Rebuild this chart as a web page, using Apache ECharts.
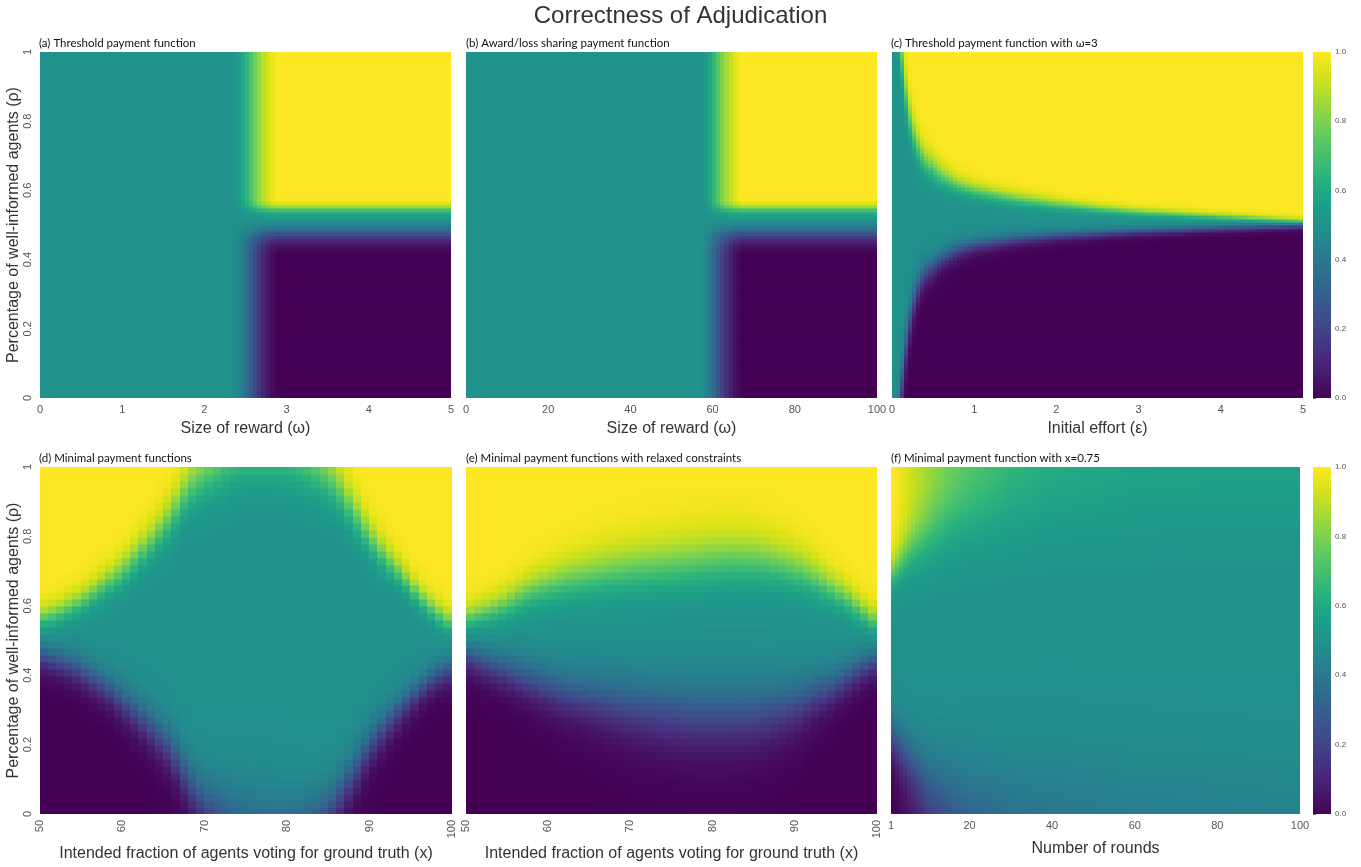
<!DOCTYPE html>
<html>
<head>
<meta charset="utf-8">
<script src="https://cdn.jsdelivr.net/npm/echarts@6/dist/echarts.min.js"></script>
<style>html,body{margin:0;padding:0;background:#fff}#chart{width:1361px;height:867px}</style>
</head>
<body>
<div id="chart"></div>
<script>
// ---------------- data ----------------
// (a) Threshold payment function: column reach (0 = undecided teal, 1 = fully decided) vs ω
const aOmega = [0, 2.3, 2.4, 2.5, 2.6, 2.7, 2.8, 2.9, 5];
const aReach = [0, 0, 0.06, 0.25, 0.5, 0.75, 0.92, 1, 1];
// decided-value row profile vs ρ
const aRho     = [0, 0.42, 0.44, 0.46, 0.48, 0.50, 0.52, 0.54, 0.555, 0.57, 1];
const aDecided = [0, 0, 0.04, 0.12, 0.28, 0.45, 0.52, 0.62, 0.85, 1, 1];

// (b) Award/loss sharing payment function
const bOmega = [0, 57, 59, 61, 63, 65, 67, 100];
const bReach = [0, 0, 0.12, 0.4, 0.68, 0.88, 1, 1];
const bRho     = [0, 0.42, 0.44, 0.46, 0.48, 0.50, 0.52, 0.54, 0.555, 0.57, 1];
const bDecided = [0, 0, 0.04, 0.12, 0.28, 0.45, 0.52, 0.62, 0.85, 1, 1];

// (c) Threshold payment function with ω=3: upper / lower boundaries vs ε
const cEps    = [0, 0.05, 0.1, 0.15, 0.2, 0.3, 0.4, 0.6, 0.8, 1.0, 1.5, 2, 2.5, 3, 4, 5];
const cUpper  = [1.3, 1.2, 1.04, 0.93, 0.83, 0.74, 0.69, 0.645, 0.618, 0.602, 0.578, 0.562, 0.55, 0.54, 0.527, 0.514];
const cUpperW = [0.06, 0.05, 0.045, 0.04, 0.035, 0.03, 0.025, 0.02, 0.016, 0.014, 0.012, 0.01, 0.008, 0.007, 0.006, 0.005];
const cLower  = [-0.3, -0.15, -0.01, 0.1, 0.2, 0.31, 0.36, 0.405, 0.43, 0.445, 0.462, 0.472, 0.478, 0.484, 0.492, 0.499];
const cLowerW = [0.06, 0.05, 0.045, 0.04, 0.035, 0.028, 0.022, 0.018, 0.015, 0.013, 0.011, 0.009, 0.008, 0.007, 0.006, 0.005];

// (d) Minimal payment functions: boundaries vs x
const dX      = [50, 52, 54, 56, 58, 60, 62, 64, 66, 68, 70, 72, 74, 76, 78, 80, 82, 84, 86, 88, 90, 92, 94, 96, 98, 100];
const dUpper  = [.565, .58, .60, .63, .665, .70, .75, .80, .86, .94, .98, 1.01, 1.04, 1.045, 1.045, 1.04, 1.02, .99, .95, .875, .80, .74, .69, .63, .585, .55];
const dUpperW = [.02, .021, .022, .024, .026, .028, .03, .032, .036, .042, .046, .05, .052, .052, .052, .052, .05, .046, .042, .036, .032, .028, .025, .022, .021, .02];
const dLower  = [.46, .445, .43, .40, .37, .33, .29, .24, .19, .10, .035, -.005, -.04, -.06, -.065, -.06, -.04, -.01, .04, .12, .20, .26, .31, .36, .40, .42];
const dLowerW = [.024, .024, .026, .027, .029, .032, .034, .037, .04, .045, .05, .058, .066, .07, .07, .066, .058, .05, .045, .04, .036, .032, .029, .026, .024, .024];

// (e) Minimal payment functions with relaxed constraints
const eX      = [50, 54, 58, 62, 66, 70, 74, 78, 82, 86, 90, 92.5, 94.5, 96.5, 98.5, 100];
const eUpper  = [.565, .595, .645, .675, .695, .71, .72, .73, .74, .735, .71, .68, .65, .62, .58, .553];
const eUpperW = [.022, .026, .032, .038, .042, .045, .047, .048, .048, .045, .04, .035, .03, .027, .024, .022];
const eLower  = [.46, .425, .39, .355, .335, .315, .30, .29, .29, .295, .32, .35, .37, .40, .43, .445];
const eLowerW = [.025, .03, .036, .042, .048, .054, .058, .06, .06, .056, .048, .04, .034, .03, .027, .025];

// (f) Minimal payment function with x=0.75: corner levels vs number of rounds
const fRound  = [1, 3, 6, 10, 15, 20, 30, 40, 60, 80, 100];
const fTop    = [1, 0.97, 0.92, 0.86, 0.8, 0.76, 0.69, 0.65, 0.61, 0.6, 0.6];
const fUpper  = [0.7, 0.73, 0.77, 0.8, 0.84, 0.86, 0.88, 0.9, 0.9, 0.9, 0.9];
const fUpperW = [0.03, 0.035, 0.045, 0.055, 0.065, 0.07, 0.08, 0.09, 0.1, 0.1, 0.1];
const fBottom = [0, 0.02, 0.06, 0.12, 0.18, 0.22, 0.28, 0.32, 0.36, 0.38, 0.4];
const fLower  = [0.22, 0.19, 0.15, 0.1, 0.07, 0.05, 0.04, 0.04, 0.04, 0.04, 0.04];
const fLowerW = [0.04, 0.045, 0.05, 0.06, 0.07, 0.08, 0.09, 0.1, 0.1, 0.1, 0.1];

// tick labels
const omegaTicks = [0, 1, 2, 3, 4, 5];
const omegaBigTicks = [0, 20, 40, 60, 80, 100];
const epsTicks = [0, 1, 2, 3, 4, 5];
const fracTicks = [50, 60, 70, 80, 90, 100];
const roundTicks = [1, 20, 40, 60, 80, 100];
const rhoTicks = [0, 0.2, 0.4, 0.6, 0.8, 1];
const colorbarTicks = [0, 0.2, 0.4, 0.6, 0.8, 1.0];

const VIRIDIS = ['#440154','#471365','#482475','#463480','#414487','#3b528b','#355f8d','#2f6c8e','#2a788e','#25848e','#21918c','#1e9c89','#22a884','#2fb47c','#44bf70','#5ec962','#7ad151','#9bd93c','#bddf26','#dfe318','#fde725'];

// ---------------- helpers ----------------
function interp(xs, ys, x) {
  if (x <= xs[0]) return ys[0];
  for (let i = 1; i < xs.length; i++) {
    if (x <= xs[i]) { const t = (x - xs[i-1]) / (xs[i] - xs[i-1]); return ys[i-1] + t * (ys[i] - ys[i-1]); }
  }
  return ys[ys.length - 1];
}
function S(t) { return 1 / (1 + Math.exp(-t)); }
function clamp(v) { return Math.max(0, Math.min(1, v)); }
function buildCells(x0, x1, nx, y0, y1, ny, fn) {
  const out = [];
  const dx = (x1 - x0) / nx, dy = (y1 - y0) / ny;
  for (let i = 0; i < nx; i++) {
    for (let j = 0; j < ny; j++) {
      const xa = x0 + i * dx, ya = y0 + j * dy;
      out.push([xa, xa + dx, ya, ya + dy, clamp(fn(xa + dx / 2, ya + dy / 2, i, j))]);
    }
  }
  return out;
}
function twoBoundary(xs, U, UW, L, LW) {
  return (x, r) => 0.5 * S((r - interp(xs, L, x)) / interp(xs, LW, x)) + 0.5 * S((r - interp(xs, U, x)) / interp(xs, UW, x));
}

const cellsA = buildCells(0, 5, 100, 0, 1, 100, (x, r) => 0.5 + interp(aOmega, aReach, x) * (interp(aRho, aDecided, r) - 0.5));
const cellsB = buildCells(0, 100, 100, 0, 1, 100, (x, r) => 0.5 + interp(bOmega, bReach, x) * (interp(bRho, bDecided, r) - 0.5));
const cellsC = buildCells(0, 5, 100, 0, 1, 100, twoBoundary(cEps, cUpper, cUpperW, cLower, cLowerW));
const cellsD = buildCells(50, 100, 50, 0, 1, 50, twoBoundary(dX, dUpper, dUpperW, dLower, dLowerW));
const cellsE = buildCells(50, 100, 50, 0, 1, 50, twoBoundary(eX, eUpper, eUpperW, eLower, eLowerW));
const cellsF = buildCells(1, 100, 100, 0, 1, 100, (x, r, i) => {
  const rd = i + 1;
  const T = interp(fRound, fTop, rd), B = interp(fRound, fBottom, rd);
  return 0.5 + (T - 0.5) * S((r - interp(fRound, fUpper, rd)) / interp(fRound, fUpperW, rd))
             - (0.5 - B) * (1 - S((r - interp(fRound, fLower, rd)) / interp(fRound, fLowerW, rd)));
});
const cbCells = buildCells(0, 1, 1, 0, 1, 200, (x, r) => r);

// ---------------- chart ----------------
const FONT = 'Liberation Sans, Arial, sans-serif';
const grids = [
  { left: 40,  top: 52,  width: 411, height: 346 },
  { left: 466, top: 52,  width: 411, height: 346 },
  { left: 892, top: 52,  width: 411, height: 346 },
  { left: 40,  top: 467, width: 412, height: 347 },
  { left: 466, top: 467, width: 411, height: 347 },
  { left: 891, top: 467, width: 409, height: 347 },
  { left: 1313, top: 52,  width: 18, height: 346 },
  { left: 1313, top: 467, width: 18, height: 347 }
];

const nameStyle = { color: '#333', fontSize: 16, fontFamily: FONT };

function xAx(gi, min, max, ticks, name, nameGap, rotate) {
  return {
    gridIndex: gi, type: 'value', min, max,
    axisLine: { show: false }, splitLine: { show: false },
    axisTick: { show: false, customValues: ticks },
    axisLabel: { margin: 6, rotate: rotate || 0, customValues: ticks, color: '#555', fontSize: 11, fontFamily: FONT },
    name, nameLocation: 'middle', nameGap, nameTextStyle: nameStyle
  };
}
function yAx(gi, showLabels) {
  return {
    gridIndex: gi, type: 'value', min: 0, max: 1,
    axisLine: { show: false }, splitLine: { show: false },
    axisTick: { show: false, customValues: rhoTicks },
    axisLabel: { show: showLabels, rotate: 90, margin: 7, customValues: rhoTicks, color: '#555', fontSize: 11, fontFamily: FONT },
    name: showLabels ? 'Percentage of well-informed agents (ρ)' : '',
    nameLocation: 'middle', nameGap: 18, nameTextStyle: nameStyle
  };
}

const xAxes = [
  xAx(0, 0, 5, omegaTicks, 'Size of reward (ω)', 23),
  xAx(1, 0, 100, omegaBigTicks, 'Size of reward (ω)', 23),
  xAx(2, 0, 5, epsTicks, 'Initial effort (ε)', 23),
  xAx(3, 50, 100, fracTicks, 'Intended fraction of agents voting for ground truth (x)', 32, 90),
  xAx(4, 50, 100, fracTicks, 'Intended fraction of agents voting for ground truth (x)', 32, 90),
  xAx(5, 1, 100, roundTicks, 'Number of rounds', 27),
  { gridIndex: 6, type: 'value', min: 0, max: 1, show: false },
  { gridIndex: 7, type: 'value', min: 0, max: 1, show: false }
];

const yAxes = [yAx(0, true), yAx(1, false), yAx(2, false), yAx(3, true), yAx(4, false), yAx(5, false)];
for (const gi of [6, 7]) {
  yAxes.push({
    gridIndex: gi, type: 'value', min: 0, max: 1, position: 'right',
    axisLine: { show: false }, splitLine: { show: false },
    axisTick: { show: true, length: 3, customValues: colorbarTicks, lineStyle: { color: '#555', width: 0.8 } },
    axisLabel: { margin: 4, customValues: colorbarTicks, color: '#555', fontSize: 8, fontFamily: FONT, formatter: v => v.toFixed(1) }
  });
}

function renderCell(params, api) {
  const p0 = api.coord([api.value(0), api.value(3)]);
  const p1 = api.coord([api.value(1), api.value(2)]);
  const x = Math.floor(p0[0]), y = Math.floor(p0[1]);
  return {
    type: 'rect',
    shape: { x, y, width: Math.ceil(p1[0]) - x + 0.5, height: Math.ceil(p1[1]) - y + 0.5 },
    style: { fill: api.visual('color') }
  };
}
function cellSeries(gi, data) {
  return {
    type: 'custom', xAxisIndex: gi, yAxisIndex: gi, data,
    renderItem: renderCell, silent: true, animation: false, clip: true,
    progressive: 0,
    encode: { x: [0, 1], y: [2, 3] }
  };
}

const subTitles = [
  ['(a) Threshold payment function', 39, 37],
  ['(b) Award/loss sharing payment function', 466, 37],
  ['(c) Threshold payment function with ω=3', 891, 37],
  ['(d) Minimal payment functions', 39, 452],
  ['(e) Minimal payment functions with relaxed constraints', 466, 452],
  ['(f) Minimal payment function with x=0.75', 891, 452]
];

const option = {
  backgroundColor: '#fff',
  animation: false,
  title: [{
    text: 'Correctness of Adjudication', left: 'center', top: 4, padding: 0,
    textStyle: { fontSize: 24, fontWeight: 'normal', color: '#333', fontFamily: FONT }
  }].concat(subTitles.map(t => ({
    text: t[0], left: t[1], top: t[2], padding: 0,
    textStyle: { fontSize: 11.5, fontWeight: 'normal', color: '#111', fontFamily: 'Lato, sans-serif' }
  }))),
  grid: grids,
  xAxis: xAxes,
  yAxis: yAxes,
  visualMap: [{
    type: 'continuous', min: 0, max: 1, dimension: 4, show: false,
    inRange: { color: VIRIDIS }
  }],
  series: [
    cellSeries(0, cellsA), cellSeries(1, cellsB), cellSeries(2, cellsC),
    cellSeries(3, cellsD), cellSeries(4, cellsE), cellSeries(5, cellsF),
    cellSeries(6, cbCells), cellSeries(7, cbCells)
  ]
};

const chart = echarts.init(document.getElementById('chart'), null, { renderer: 'canvas' });
chart.setOption(option);
</script>
</body>
</html>
